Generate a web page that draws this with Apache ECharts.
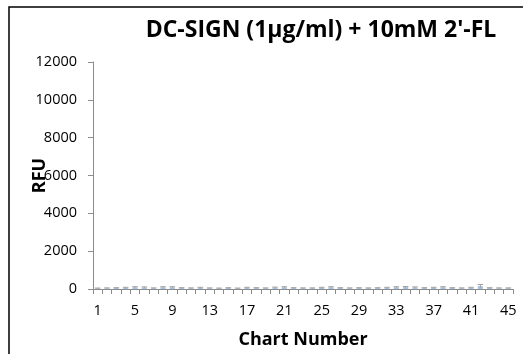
<!DOCTYPE html>
<html>
<head>
<meta charset="utf-8">
<script src="https://cdn.jsdelivr.net/npm/echarts@6/dist/echarts.min.js"></script>
<style>
  html, body { margin: 0; padding: 0; background: #fff; }
  #chart { width: 523px; height: 354px; }
</style>
</head>
<body>
<div id="chart"></div>
<script>
// Glycan array chart numbers 1..45
const chartNumbers = [];
for (let i = 1; i <= 45; i++) chartNumbers.push(String(i));

// Mean RFU per chart number
const rfuMean = [
  30, 40, 50, 60, 90, 80, 40, 90, 90, 50,
  40, 60, 40, 30, 50, 30, 60, 50, 40, 70,
  90, 50, 40, 40, 60, 90, 50, 40, 50, 40,
  50, 60, 90, 100, 80, 50, 60, 90, 50, 40,
  60, 150, 50, 40, 40
];

// Error (standard deviation) per chart number
const rfuError = [
  20, 20, 20, 30, 30, 30, 20, 30, 30, 20,
  20, 30, 20, 20, 20, 20, 30, 20, 20, 30,
  30, 20, 20, 20, 30, 30, 20, 20, 20, 20,
  20, 30, 30, 30, 30, 20, 30, 30, 20, 20,
  30, 90, 20, 20, 20
];

const yTicks = [0, 2000, 4000, 6000, 8000, 10000, 12000];

const chart = echarts.init(document.getElementById('chart'));
const font = '"Open Sans", "Liberation Sans", sans-serif';

chart.setOption({
  animation: false,
  title: {
    text: "DC-SIGN (1\u03bcg/ml) + 10mM 2'-FL",
    left: 316,
    top: 14,
    textAlign: 'center',
    textStyle: { fontFamily: font, fontWeight: 'bold', fontSize: 23, color: '#000' }
  },
  graphic: [{
    type: 'rect',
    shape: { x: 9, y: 7, width: 530, height: 360 },
    style: { fill: 'none', stroke: '#000', lineWidth: 1.5 },
    silent: true
  }],
  grid: { left: 93, right: 10, top: 62, bottom: 64 },
  xAxis: {
    type: 'category',
    data: chartNumbers,
    name: 'Chart Number',
    nameLocation: 'middle',
    nameGap: 42,
    nameMoveOverlap: false,
    nameTextStyle: { fontFamily: font, fontWeight: 'bold', fontSize: 18, color: '#000' },
    axisLine: { lineStyle: { color: '#8c8c8c', width: 1 } },
    axisTick: { show: true, interval: 0, length: 5, lineStyle: { color: '#8c8c8c' } },
    axisLabel: { interval: 3, margin: 14, fontFamily: font, fontSize: 14.5, color: '#000' }
  },
  yAxis: {
    type: 'value',
    min: 0,
    max: 12000,
    interval: 2000,
    name: 'RFU',
    nameLocation: 'middle',
    nameGap: 44,
    nameMoveOverlap: false,
    nameTextStyle: { fontFamily: font, fontWeight: 'bold', fontSize: 18, color: '#000' },
    axisLine: { show: true, lineStyle: { color: '#8c8c8c', width: 1 } },
    axisTick: { show: true, length: 5, lineStyle: { color: '#8c8c8c' } },
    splitLine: { show: false },
    axisLabel: {
      margin: 16, fontFamily: font, fontSize: 14.5, color: '#000',
      formatter: v => (yTicks.indexOf(v) >= 0 ? String(v) : '')
    }
  },
  series: [
    {
      type: 'bar',
      data: rfuMean,
      barWidth: '55%',
      itemStyle: { color: '#a7c0de' }
    },
    {
      type: 'custom',
      data: rfuMean.map((m, i) => [i, m - rfuError[i], m + rfuError[i]]),
      renderItem: function (params, api) {
        const x = api.value(0);
        const lo = api.coord([x, Math.max(0, api.value(1))]);
        const hi = api.coord([x, api.value(2)]);
        const half = api.size([1, 0])[0] * 0.3;
        const style = { stroke: '#a0a0a0', lineWidth: 1 };
        return {
          type: 'group',
          children: [
            { type: 'line', shape: { x1: hi[0], y1: hi[1], x2: lo[0], y2: lo[1] }, style: style },
            { type: 'line', shape: { x1: hi[0] - half, y1: hi[1], x2: hi[0] + half, y2: hi[1] }, style: style }
          ]
        };
      },
      z: 3
    }
  ]
});
</script>
</body>
</html>
